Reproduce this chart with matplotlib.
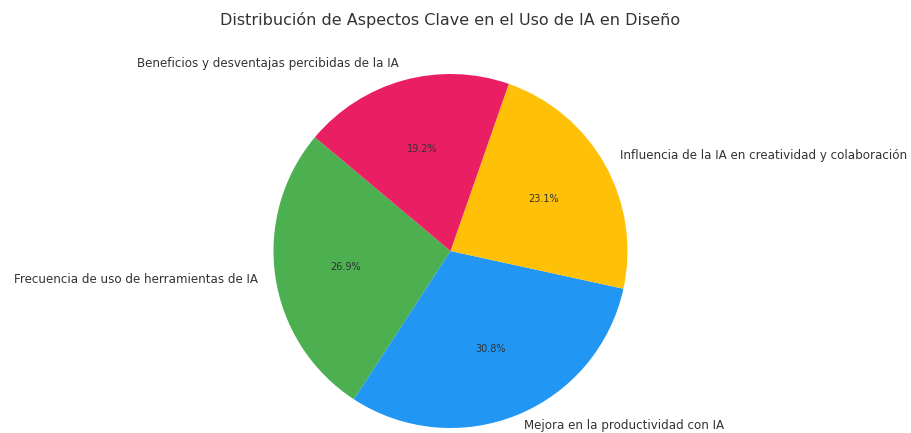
import matplotlib.pyplot as plt

labels = ['Frecuencia de uso de herramientas de IA', 'Mejora en la productividad con IA',
          'Influencia de la IA en creatividad y colaboración', 'Beneficios y desventajas percibidas de la IA']
values = [7, 8, 6, 5]
colors = ['#4CAF50', '#2196F3', '#FFC107', '#E91E63']

fig = plt.figure(figsize=(9.12, 4.33), dpi=100)
# axes placed so the pie sits where it does in the reference
r_px = 177
cx, cy = 450.5, 433 - 251
ax = fig.add_axes([(cx - r_px) / 912, (cy - r_px) / 433, 2 * r_px / 912, 2 * r_px / 433])

wedges, texts, autotexts = ax.pie(values, labels=labels, colors=colors, autopct='%1.1f%%',
                                  startangle=140, textprops={'color': '#333333', 'fontsize': 8.6})
for t in autotexts:
    t.set_fontsize(7)
# keep bottom label inside the canvas
texts[1].set_y(texts[1].get_position()[1] + 0.03)
ax.set_xlim(-1, 1)
ax.set_ylim(-1, 1)
ax.set_axis_off()

fig.text(cx / 912, 1 - 20 / 433, 'Distribución de Aspectos Clave en el Uso de IA en Diseño',
         ha='center', va='center', fontsize=11.5, color='#333333')

fig.savefig('out.png', dpi=100)
